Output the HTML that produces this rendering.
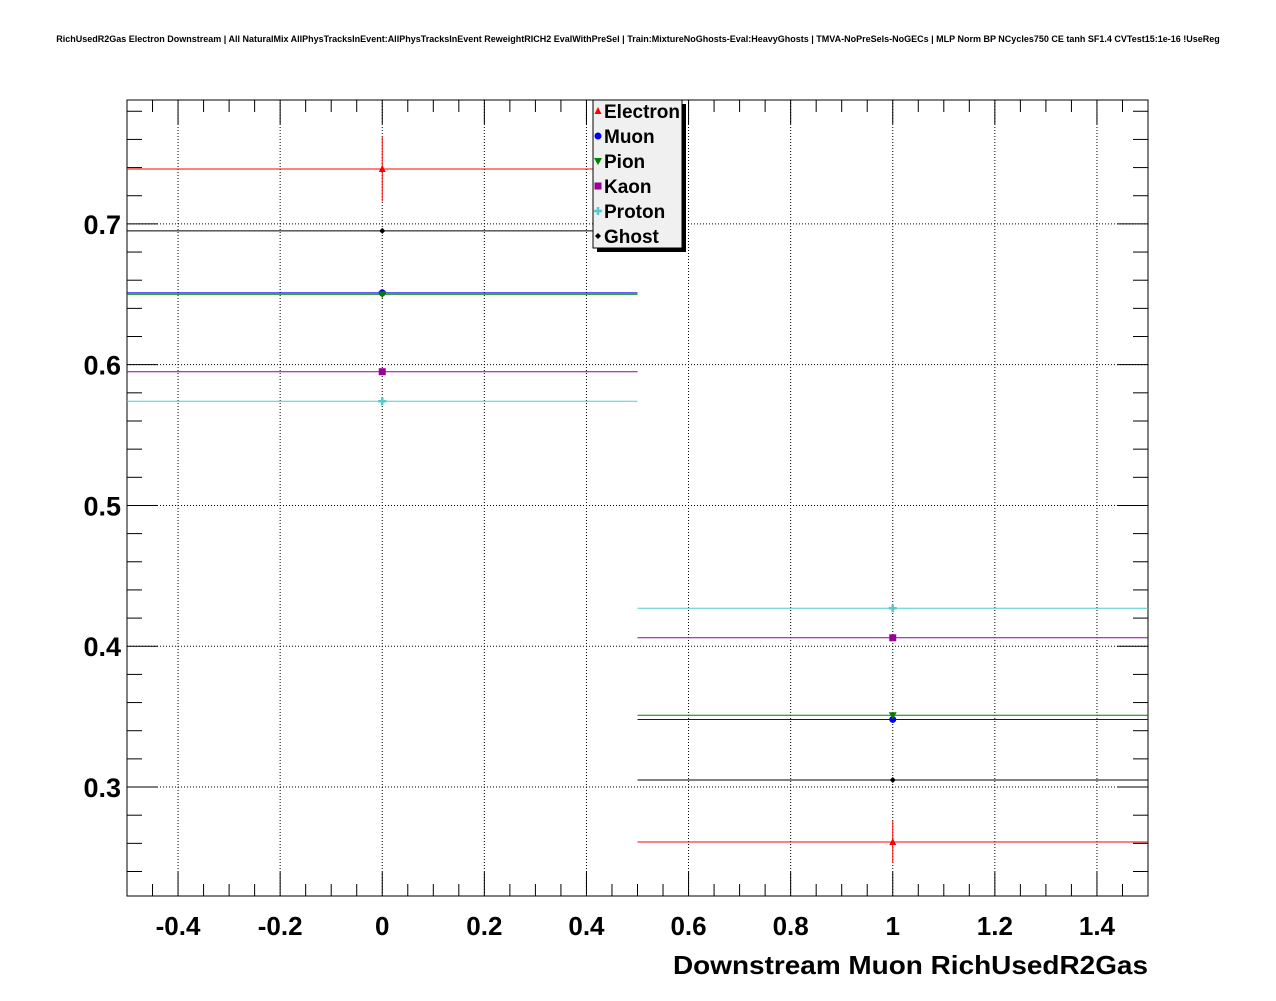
<!DOCTYPE html>
<html><head><meta charset="utf-8"><style>
body{margin:0;background:#fff;width:1276px;height:996px;overflow:hidden;font-family:"Liberation Sans",sans-serif}
</style></head><body>
<svg id="c" width="1276" height="996" xmlns="http://www.w3.org/2000/svg">
<text x="638" y="42" font-size="9" font-weight="bold" text-anchor="middle" font-family="Liberation Sans, sans-serif">RichUsedR2Gas Electron Downstream | All NaturalMix AllPhysTracksInEvent:AllPhysTracksInEvent ReweightRICH2 EvalWithPreSel | Train:MixtureNoGhosts-Eval:HeavyGhosts | TMVA-NoPreSels-NoGECs | MLP Norm BP NCycles750 CE tanh SF1.4 CVTest15:1e-16 !UseReg</text>
<g id="grid"></g><g id="axes"></g><g id="marks"></g><g id="legend"></g>
</svg>
<script>
const binCenters=[0,1];
const binHalf=0.5;
const seriesNames=["Electron","Muon","Pion","Kaon","Proton","Ghost"];
const seriesColors=["#ff0000","#0000ff","#008000","#990099","#55cccc","#000000"];
const electron=[0.739,0.261];
const electronErr=[0.023,0.015];
const muon=[0.651,0.348];
const pion=[0.650,0.351];
const kaon=[0.595,0.406];
const proton=[0.574,0.427];
const ghost=[0.695,0.305];
const xTicks=[-0.4,-0.2,0,0.2,0.4,0.6,0.8,1,1.2,1.4];
const xTickLabels=["-0.4","-0.2","0","0.2","0.4","0.6","0.8","1","1.2","1.4"];
const yTicks=[0.3,0.4,0.5,0.6,0.7];
const yTickLabels=["0.3","0.4","0.5","0.6","0.7"];
const L=127,R=1148,T=100,B=896;
const xmin=-0.5,xmax=1.5,ymin=0.2226,ymax=0.788;
const X=v=>L+(v-xmin)/(xmax-xmin)*(R-L);
const Y=v=>B-(v-ymin)/(ymax-ymin)*(B-T);
const NS="http://www.w3.org/2000/svg";
function mk(p,t,a){const e=document.createElementNS(NS,t);for(const k in a)e.setAttribute(k,a[k]);document.getElementById(p).appendChild(e);return e;}
xTicks.forEach(v=>{const e=mk("grid","line",{x1:X(v),x2:X(v),y1:T,y2:B,stroke:"#000","stroke-width":1,"stroke-dasharray":"1,2"});

});
yTicks.forEach(v=>{const e=mk("grid","line",{x1:L,x2:R,y1:Y(v),y2:Y(v),stroke:"#000","stroke-width":1,"stroke-dasharray":"1,2"});

});
const fr=mk("axes","rect",{x:L,y:T,width:R-L,height:B-T,fill:"none",stroke:"#000","stroke-width":1});


for(let v=-0.5;v<=1.5001;v+=0.05){const maj=Math.abs(v/0.2-Math.round(v/0.2))<1e-6;const len=maj?24:12;
mk("axes","line",{x1:X(v),x2:X(v),y1:B,y2:B-len,stroke:"#000"});mk("axes","line",{x1:X(v),x2:X(v),y1:T,y2:T+len,stroke:"#000"});}
for(let v=0.24;v<=0.7801;v+=0.02){const maj=Math.abs(v*10-Math.round(v*10))<1e-6;const len=maj?31:15;
mk("axes","line",{x1:L,x2:L+len,y1:Y(v),y2:Y(v),stroke:"#000"});mk("axes","line",{x1:R,x2:R-len,y1:Y(v),y2:Y(v),stroke:"#000"});}
xTicks.forEach((v,i)=>{const t=mk("axes","text",{x:X(v),y:935,"font-size":26,"font-weight":"bold","text-anchor":"middle"});t.textContent=xTickLabels[i];

});
yTicks.forEach((v,i)=>{const t=mk("axes","text",{x:121,y:Y(v)+10,"font-size":27,"font-weight":"bold","text-anchor":"end"});t.textContent=yTickLabels[i];

});
const xt=mk("axes","text",{x:673,y:974,"font-size":26,"font-weight":"bold",textLength:475,lengthAdjust:"spacingAndGlyphs"});xt.textContent="Downstream Muon RichUsedR2Gas";


function marker(p,i,x,y){const c=seriesColors[i];let e;
if(i==0)e=mk(p,"polygon",{points:`${x},${y-4} ${x-3.5},${y+3} ${x+3.5},${y+3}`,fill:c});
else if(i==1)e=mk(p,"circle",{cx:x,cy:y,r:3.5,fill:c});
else if(i==2)e=mk(p,"polygon",{points:`${x-4},${y-3} ${x+4},${y-3} ${x},${y+4}`,fill:c});
else if(i==3)e=mk(p,"rect",{x:x-3.5,y:y-3.5,width:7,height:7,fill:c});
else if(i==4)e=mk(p,"path",{d:`M${x-4},${y}H${x+4}M${x},${y-4}V${y+4}`,stroke:c,"stroke-width":2.5});
else e=mk(p,"polygon",{points:`${x},${y-3} ${x+3},${y} ${x},${y+3} ${x-3},${y}`,fill:c});
return e;}
const allSeries=[electron,muon,pion,kaon,proton,ghost];
allSeries.forEach((s,i)=>{s.forEach((v,j)=>{
const h=mk("marks","line",{x1:X(binCenters[j]-binHalf),x2:X(binCenters[j]+binHalf),y1:Y(v),y2:Y(v),stroke:seriesColors[i],"stroke-width":1});


if(i==0){const eb=mk("marks","line",{x1:X(binCenters[j]),x2:X(binCenters[j]),y1:Y(v+electronErr[j]),y2:Y(v-electronErr[j]),stroke:seriesColors[i]});

}
const m=marker("marks",i,X(binCenters[j]),Y(v));


});});
const sh=mk("legend","rect",{x:597,y:104,width:89,height:148,fill:"#000"});


const lb=mk("legend","rect",{x:593,y:100,width:89,height:148,fill:"#f0f0f0",stroke:"#000"});


seriesNames.forEach((n,i)=>{const y=111+i*25;
const m=marker("legend",i,598,y);


const t=mk("legend","text",{x:604,y:y+7,"font-size":19,"font-weight":"bold"});t.textContent=n;

});
</script>
</body></html>
